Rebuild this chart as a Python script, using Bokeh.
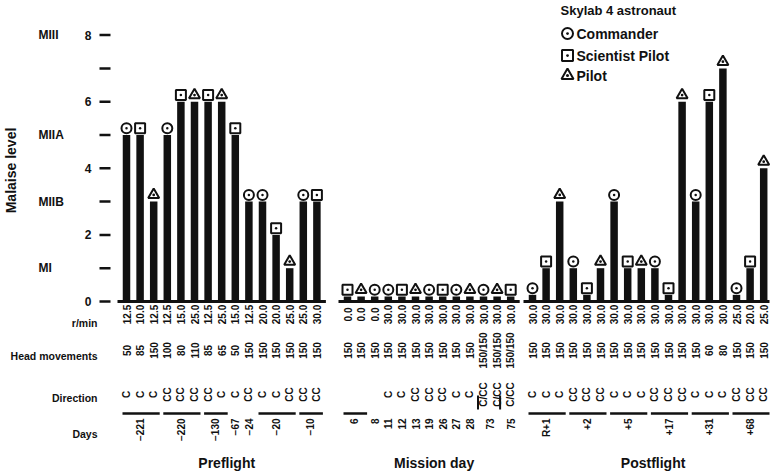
import math
from bokeh.plotting import figure
from bokeh.models import Range1d, ColumnDataSource
from bokeh.core.properties import value
from bokeh.embed import file_html
from bokeh.resources import INLINE

# ---------------- data ----------------
y_ticks = [0, 1, 2, 3, 4, 5, 6, 7, 8]
y_tick_labels = {0: "0", 2: "2", 4: "4", 6: "6", 8: "8"}
level_labels = {1: "MI", 3: "MIIB", 5: "MIIA", 8: "MIII"}
row_labels = ["r/min", "Head movements", "Direction", "Days"]

pre_height = [5, 5, 3, 5, 6, 6, 6, 6, 5, 3, 3, 2, 1, 3, 3]
pre_astro = ["C", "S", "P", "C", "S", "P", "S", "P", "S", "C", "C", "S", "P", "C", "S"]
pre_rpm = ["12.5", "10.0", "12.5", "12.5", "15.0", "25.0", "12.5", "25.0", "15.0",
           "12.5", "20.0", "20.0", "25.0", "25.0", "30.0"]
pre_head = ["50", "85", "150", "100", "80", "110", "85", "65", "50",
            "150", "150", "150", "150", "150", "150"]
pre_dir = ["C", "C", "C", "CC", "CC", "CC", "CC", "C", "C", "CC", "C", "C", "CC", "CC", "CC"]
pre_days = ["\u2212221", "\u2212220", "\u2212130", "\u221267", "\u221224", "\u221220", "\u221210"]
pre_day_sizes = [3, 3, 2, 1, 1, 3, 2]
pre_day_lines = [True, True, True, False, False, True, True]

mis_height = [0.15] * 13
mis_astro = ["S", "P", "C", "C", "S", "P", "C", "S", "C", "P", "C", "P", "S"]
mis_rpm = ["0.0", "0.0", "0.0"] + ["30.0"] * 10
mis_head = ["150"] * 10 + ["150/150"] * 3
mis_dir = ["", "", "", "C", "C", "CC", "CC", "CC", "C", "C", "C/CC", "C/CC", "C/CC"]
mis_days = ["6", "8", "11", "12", "13", "19", "26", "27", "28", "73", "75"]
mis_day_sizes = [2, 1, 1, 1, 1, 1, 1, 1, 1, 2, 1]
mis_day_lines = [True, False, False, False, False, False, False, False, False, False, False]

post_height = [0.2, 1, 3, 1, 0.2, 1, 3, 1, 1, 1, 0.2, 6, 3, 6, 7, 0.2, 1, 4]
post_astro = ["C", "S", "P"] * 6
post_rpm = ["30.0"] * 15 + ["25.0", "20.0", "25.0"]
post_head = ["150"] * 13 + ["60", "80"] + ["150"] * 3
post_dir = ["C"] * 3 + ["CC"] * 3 + ["C"] * 3 + ["CC"] * 3 + ["C"] * 3 + ["CC"] * 3
post_days = ["R+1", "+2", "+5", "+17", "+31", "+68"]
post_day_sizes = [3, 3, 3, 3, 3, 3]
post_day_lines = [True] * 6

section_titles = ["Preflight", "Mission day", "Postflight"]
legend_title = "Skylab 4 astronaut"
legend_names = ["Commander", "Scientist Pilot", "Pilot"]
legend_keys = ["C", "S", "P"]

# ---------------- layout / style ----------------
FONT = value("Liberation Sans")
INK = "#111111"
MARK = {"C": "circle_dot", "S": "square_dot", "P": "triangle_dot"}
MSIZE = {"C": 10, "S": 10, "P": 11}
pitch = 13.6
starts = [126, 347, 532]
XMAX = 769

Y0, UNIT = 301.0, 33.3          # layout helper: vertical placement in malaise units
def v(py):
    return (Y0 - py) / UNIT

p = figure(width=773, height=472, x_range=Range1d(0, 773), y_range=Range1d(v(472), v(0)),
           output_backend="svg", toolbar_location=None, min_border=0)
p.axis.visible = False
p.grid.visible = False
p.outline_line_color = None
p.background_fill_color = "white"
p.border_fill_color = "white"

def txt(xs, ys, texts, size, angle=0.0, align="center", baseline="middle"):
    p.text(x=xs, y=ys, text=texts, angle=angle, text_align=align, text_baseline=baseline,
           text_font=FONT, text_font_size=size, text_font_style="bold", text_color=INK)

# y axis ticks and labels
p.segment(x0=[99] * len(y_ticks), y0=y_ticks, x1=[110] * len(y_ticks), y1=y_ticks,
          line_color=INK, line_width=2.5)
txt([91] * len(y_tick_labels), list(y_tick_labels.keys()), list(y_tick_labels.values()),
    "12px", align="right")
txt([38] * len(level_labels), list(level_labels.keys()), list(level_labels.values()),
    "12px", align="left")
txt([10], [v(170)], ["Malaise level"], "14px", angle=math.pi / 2)
txt([97] * 4, [v(322), v(355), v(397), v(433)], row_labels, "10.5px", align="right")

sections = [
    (pre_height, pre_astro, pre_rpm, pre_head, pre_dir, pre_days, pre_day_sizes, pre_day_lines),
    (mis_height, mis_astro, mis_rpm, mis_head, mis_dir, mis_days, mis_day_sizes, mis_day_lines),
    (post_height, post_astro, post_rpm, post_head, post_dir, post_days, post_day_sizes, post_day_lines),
]

for si, (h, astro, rpm, head, dr, days, dsz, dln) in enumerate(sections):
    xs = [starts[si] + i * pitch for i in range(len(h))]
    # baseline
    p.segment(x0=[xs[0] - 9], y0=[0], x1=[min(xs[-1] + 9, XMAX)], y1=[0],
              line_color=INK, line_width=3)
    # bars
    p.vbar(x=xs, top=h, bottom=0, width=7.5, fill_color=INK, line_color=None)
    # markers
    src = ColumnDataSource(dict(x=xs, y=[hh + 0.2 for hh in h],
                                m=[MARK[a] for a in astro], s=[MSIZE[a] for a in astro]))
    p.scatter(x="x", y="y", marker="m", size="s", source=src, fill_color="white",
              line_color=INK, line_width=2)
    # table rows
    txt(xs, [v(314)] * len(xs), rpm, "10px", angle=math.pi / 2)
    txt(xs, [v(350)] * len(xs), head, "10px", angle=math.pi / 2)
    txt(xs, [v(394)] * len(xs), dr, "10px", angle=math.pi / 2)
    # day groups
    i0 = 0
    dx, dy, lx0, lx1 = [], [], [], []
    for d, n, ln in zip(days, dsz, dln):
        first, last = xs[i0], xs[i0 + n - 1]
        dx.append((first + last) / 2)
        dy.append(v(418))
        if ln:
            lx0.append(first - 4)
            lx1.append(min(last + 6, XMAX))
        i0 += n
    txt(dx, dy, days, "10px", angle=math.pi / 2, align="right")
    if lx0:
        p.segment(x0=lx0, y0=[v(413)] * len(lx0), x1=lx1, y1=[v(413)] * len(lx0),
                  line_color=INK, line_width=2.5)
    txt([(xs[0] + xs[-1]) / 2 + 5], [v(462)], [section_titles[si]], "14px")

# bracket marks for the mission-day 73 pair
mx = [starts[1] + 10 * pitch - 5.5, starts[1] + 11 * pitch + 3]
p.segment(x0=mx, y0=[v(395)] * 2, x1=mx, y1=[v(409)] * 2, line_color=INK, line_width=2)

# legend
txt([560], [v(10)], [legend_title], "13px", align="left")
ly = [v(33), v(55), v(75)]
p.scatter(x=[567] * 3, y=ly, marker=[MARK[k] for k in legend_keys],
          size=[MSIZE[k] + 1 for k in legend_keys], fill_color="white",
          line_color=INK, line_width=2)
txt([576] * 3, ly, legend_names, "14px", align="left")

open("out.html", "w").write(file_html(p, INLINE))
